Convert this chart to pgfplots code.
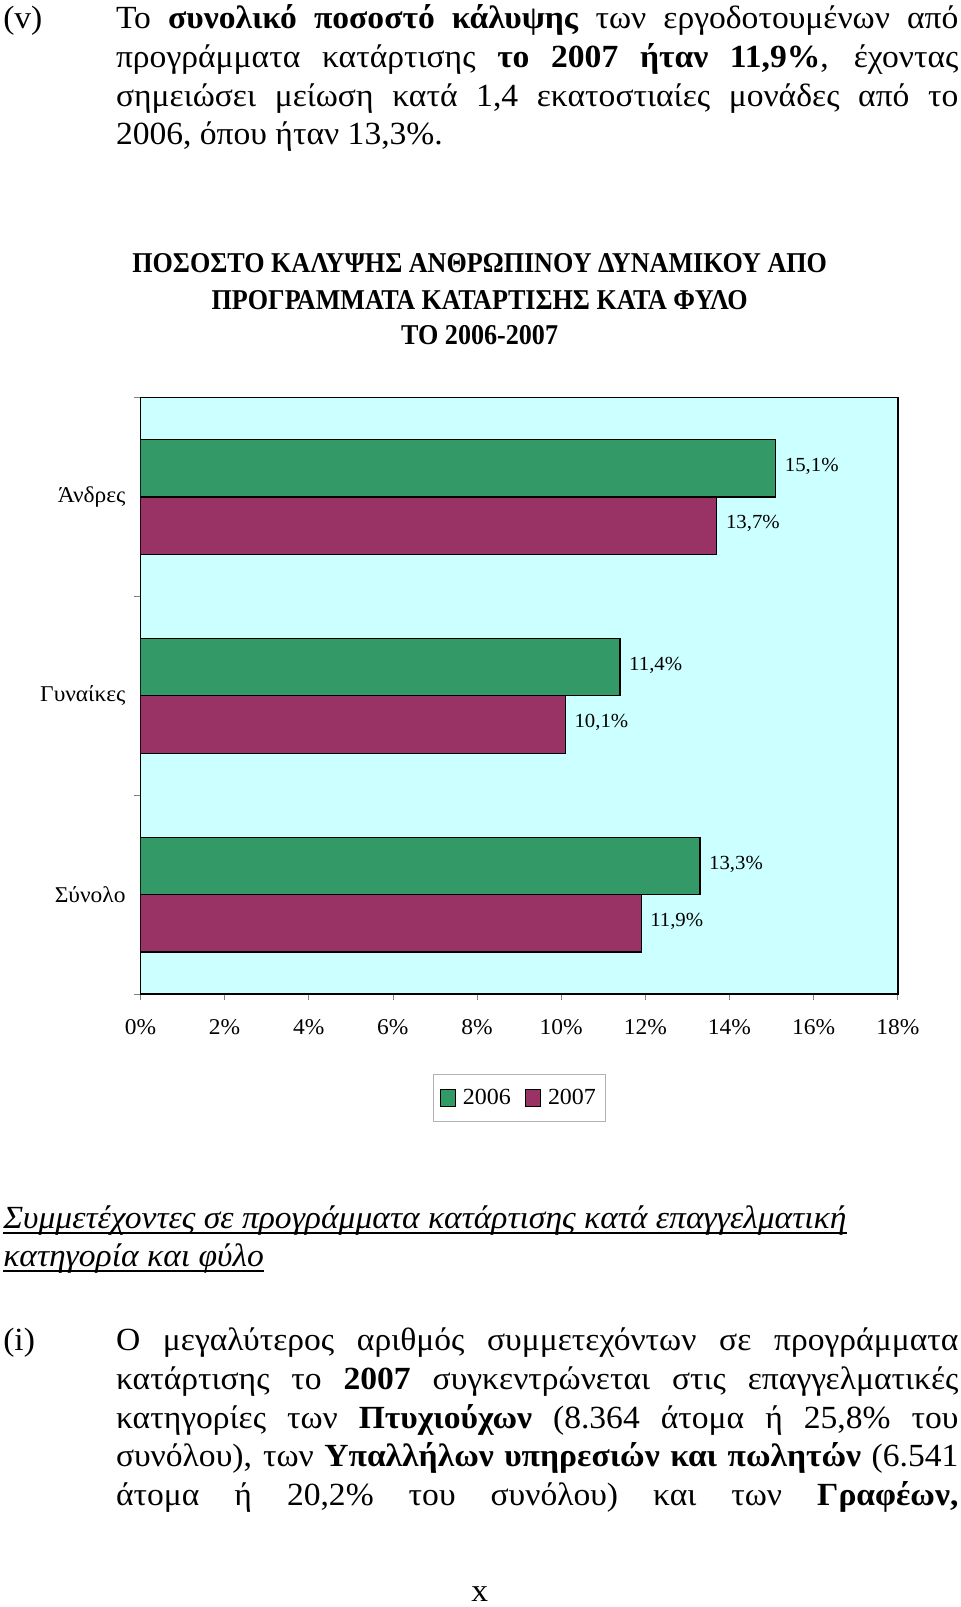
\documentclass[border=0pt]{standalone}
\usepackage{fontspec}
\usepackage{pgfplots}
\pgfplotsset{compat=1.18}
\setmainfont{Liberation Serif}[FakeStretch=1.04]
\newfontfamily\titlefont{Liberation Serif}[FakeStretch=0.91]
\definecolor{bargreen}{HTML}{339966}
\definecolor{barplum}{HTML}{993366}
\definecolor{plotbg}{HTML}{CCFFFF}
\newcommand{\bodyfont}{\fontsize{31.5}{37.7}\selectfont}
\newcommand{\jline}[1]{\makebox[822pt][s]{#1}}
\begin{document}
\begin{tikzpicture}[x=1pt,y=1pt]
\path[use as bounding box] (0,0) rectangle (937,1568);
\begin{scope}[every node/.style={inner sep=0pt, anchor=base west, font=\bodyfont}]
\node at (3,1540) {(v)};
\node at (113,1540) {\jline{Το \textbf{συνολικό ποσοστό κάλυψης} των εργοδοτουμένων από}};
\node at (113,1502) {\jline{προγράμματα κατάρτισης \textbf{το 2007 ήταν 11,9\%}, έχοντας}};
\node at (113,1464) {\jline{σημειώσει μείωση κατά 1,4 εκατοστιαίες μονάδες από το}};
\node at (113,1427) {2006, όπου ήταν 13,3\%.};
\node (h1) at (3,369) {\itshape Συμμετέχοντες σε προγράμματα κατάρτισης κατά επαγγελματική};
\node (h2) at (3,332) {\itshape κατηγορία και φύλο};
\draw[line width=1.3pt] ([yshift=-4pt]h1.base west) -- ([yshift=-4pt]h1.base east);
\draw[line width=1.3pt] ([yshift=-4pt]h2.base west) -- ([yshift=-4pt]h2.base east);
\node at (3,250) {(i)};
\node at (113,250) {\jline{Ο μεγαλύτερος αριθμός συμμετεχόντων σε προγράμματα}};
\node at (113,212) {\jline{κατάρτισης το \textbf{2007} συγκεντρώνεται στις επαγγελματικές}};
\node at (113,174) {\jline{κατηγορίες των \textbf{Πτυχιούχων} (8.364 άτομα ή 25,8\% του}};
\node at (113,137) {\jline{συνόλου), των \textbf{Υπαλλήλων υπηρεσιών και πωλητών} (6.541}};
\node at (113,99) {\jline{άτομα ή 20,2\% του συνόλου) και των \textbf{Γραφέων,}}};
\node[anchor=base] at (468,5) {x};
\end{scope}
\begin{scope}[every node/.style={inner sep=0pt, anchor=base, font=\titlefont\bfseries\fontsize{28}{28}\selectfont}]
\node at (468,1302) {ΠΟΣΟΣΤΟ ΚΑΛΥΨΗΣ ΑΝΘΡΩΠΙΝΟΥ ΔΥΝΑΜΙΚΟΥ ΑΠΟ};
\node at (468,1266) {ΠΡΟΓΡΑΜΜΑΤΑ ΚΑΤΑΡΤΙΣΗΣ ΚΑΤΑ ΦΥΛΟ};
\node at (468,1232) {ΤΟ 2006-2007};
\end{scope}
\begin{axis}[
  at={(137pt,598pt)}, anchor=south west,
  scale only axis, width=739pt, height=582pt,
  xbar, xmin=0, xmax=18, ymin=0.5, ymax=3.5,
  axis background/.style={fill=plotbg},
  axis line style={black, line width=1.4pt},
  tick pos=left,
  xtick={0,2,...,18},
  xticklabels={0\%,2\%,4\%,6\%,8\%,10\%,12\%,14\%,16\%,18\%},
  xtick align=outside,
  ytick={0.5,1.5,2.5,3.5}, yticklabels={},
  ytick align=outside,
  major tick length=6pt,
  tick style={gray, line width=0.6pt},
  extra y ticks={1,2,3},
  extra y tick labels={Σύνολο,Γυναίκες,Άνδρες},
  extra y tick style={major tick length=0pt, tick style={draw=none}},
  yticklabel style={font=\fontsize{22}{22}\selectfont, xshift=-11pt},
  xticklabel style={font=\fontsize{22}{22}\selectfont, yshift=-15pt},
  bar width=56pt,
  point meta=explicit symbolic,
  nodes near coords,
  every node near coord/.append style={font=\fontsize{19.5}{19.5}\selectfont, anchor=west, xshift=5pt, yshift=2pt, black},
  legend style={at={(0.5,-0.1735)}, anchor=center, draw=gray!60, line width=0.6pt,
     font=\fontsize{22.5}{22.5}\selectfont, legend columns=2,
     inner xsep=7pt, inner ysep=12.5pt,
     /tikz/every odd column/.append style={column sep=5pt},
     /tikz/every even column/.append style={column sep=12pt}},
  legend image code/.code={\draw[#1,draw=black,line width=1.2pt] (0pt,-9pt) rectangle (14pt,8pt);},
]
\addplot[fill=bargreen, draw=black, line width=1.2pt, bar shift=28pt] coordinates {
  (13.3,1) [13,3\%]
  (11.4,2) [11,4\%]
  (15.1,3) [15,1\%]
};
\addplot[fill=barplum, draw=black, line width=1.2pt, bar shift=-28pt] coordinates {
  (11.9,1) [11,9\%]
  (10.1,2) [10,1\%]
  (13.7,3) [13,7\%]
};
\legend{2006,2007}
\end{axis}
\end{tikzpicture}
\end{document}
